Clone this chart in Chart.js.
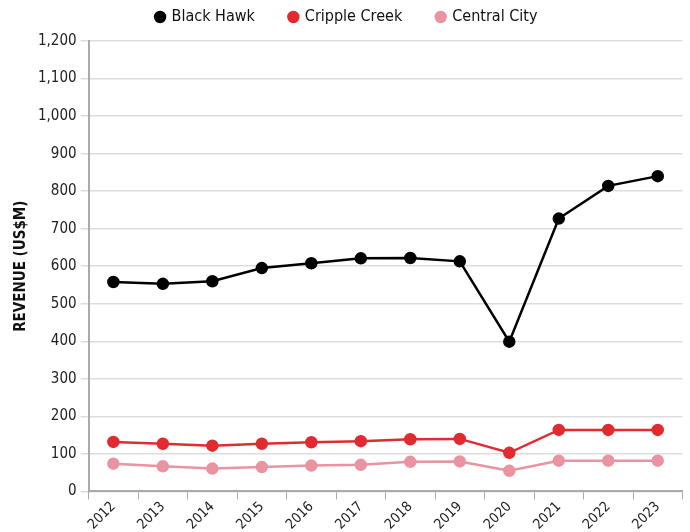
<!DOCTYPE html>
<html>
<head>
<meta charset="utf-8">
<script src="https://cdn.jsdelivr.net/npm/chart.js@4"></script>
<style>
  html, body { margin: 0; padding: 0; background: #fff; }
  #wrap { width: 690px; height: 532px; }
</style>
</head>
<body>
<div id="wrap"><canvas id="grafico"></canvas></div>
<script>
const years = ['2012', '2013', '2014', '2015', '2016', '2017', '2018', '2019', '2020', '2021', '2022', '2023'];
const blackHawk = [558, 553, 560, 595, 608, 621, 622, 613, 399, 727, 814, 840];
const crippleCreek = [132, 127, 122, 127, 131, 134, 139, 140, 103, 164, 164, 164];
const centralCity = [74, 67, 61, 65, 69, 71, 79, 80, 55, 82, 82, 82];

// fonte estreita: 'condensed' vai no campo weight para entrar na string do canvas
Chart.defaults.font.family = '"Liberation Sans Narrow", "DejaVu Sans", sans-serif';
Chart.defaults.font.weight = 'condensed';
Chart.defaults.color = '#222';

function serie(label, data, cor) {
  return {
    label: label,
    data: data,
    borderColor: cor,
    backgroundColor: cor,
    borderWidth: 2.5,
    pointRadius: 5,
    pointHoverRadius: 5,
    tension: 0
  };
}

// legenda baixa, mas com espaço grande entre os itens
const ajusteLegenda = {
  id: 'ajusteLegenda',
  beforeInit(chart) {
    const fitOriginal = chart.legend.fit;
    chart.legend.fit = function () {
      fitOriginal.call(this);
      this.height = 67;
    };
  }
};

const ctx = document.getElementById('grafico').getContext('2d');
const grafico = new Chart(ctx, {
  type: 'line',
  data: {
    labels: years,
    datasets: [
      serie('Black Hawk', blackHawk, '#000000'),
      serie('Cripple Creek', crippleCreek, '#e12b30'),
      serie('Central City', centralCity, '#ea93a1')
    ]
  },
  plugins: [ajusteLegenda],
  options: {
    responsive: true,
    maintainAspectRatio: false,
    animation: false,
    layout: { padding: { left: 8, right: 4, top: -26, bottom: 0 } },
    plugins: {
      legend: {
        position: 'top',
        labels: {
          usePointStyle: true,
          pointStyle: 'circle',
          boxWidth: 7,
          boxHeight: 7,
          padding: 35,
          font: { size: 16 },
          color: '#111'
        }
      },
      tooltip: { enabled: false }
    },
    scales: {
      x: {
        offset: true,
        grid: {
          offset: true,
          drawOnChartArea: false,
          drawTicks: true,
          tickLength: 8,
          color: '#aaaaaa'
        },
        border: { color: '#aaaaaa', width: 2 },
        ticks: {
          maxRotation: 45,
          minRotation: 45,
          font: { size: 14 },
          color: '#222',
          padding: -1
        }
      },
      y: {
        min: 0,
        max: 1200,
        ticks: {
          stepSize: 100,
          font: { size: 15 },
          color: '#222',
          padding: 4,
          callback: function (v) { return v.toLocaleString('en-US'); }
        },
        grid: {
          color: '#dddddd',
          lineWidth: 1.5,
          tickLength: 8
        },
        border: { color: '#aaaaaa', width: 2 },
        title: {
          display: true,
          text: 'REVENUE (US$M)',
          font: { size: 15, weight: 'bold condensed' },
          color: '#111'
        }
      }
    }
  }
});
</script>
</body>
</html>
